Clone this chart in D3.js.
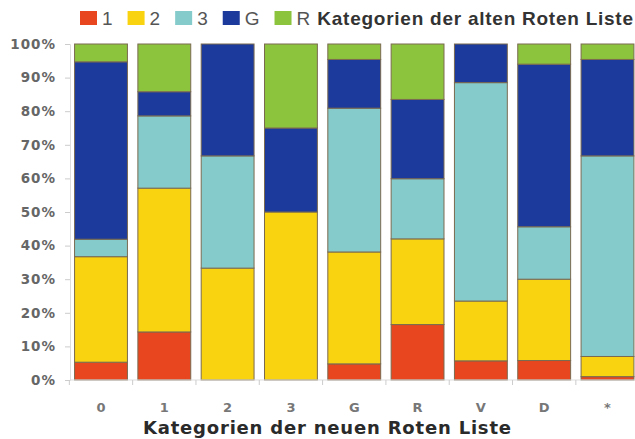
<!DOCTYPE html>
<html>
<head>
<meta charset="utf-8">
<script src="https://cdn.jsdelivr.net/npm/d3@7"></script>
<style>
  body { margin: 0; background: #fff; }
  svg { font-family: "Liberation Sans", Arial, sans-serif; }
</style>
</head>
<body>
<svg id="svg"></svg>
<script>
//data

let categories = ["0", "1", "2", "3", "G", "R", "V", "D", "*"];
let oldCats = ["1", "2", "3", "G", "R"];
let s1 = [5.3, 14.3, 0, 0, 4.8, 16.5, 5.7, 5.8, 1.0];
let s2 = [31.4, 42.8, 33.3, 50, 33.3, 25.5, 17.8, 24.2, 6.0];
let s3 = [5.2, 21.5, 33.4, 0, 42.8, 17.9, 65.0, 15.6, 59.7];
let sG = [52.8, 7.2, 33.3, 25, 14.5, 23.6, 11.5, 48.4, 28.7];
let sR = [5.3, 14.2, 0, 25, 4.6, 16.5, 0, 6.0, 4.6];
let yTicks = [0, 10, 20, 30, 40, 50, 60, 70, 80, 90, 100];
let colors = ["#e8461e", "#f9d30f", "#86cbcb", "#1b3a9b", "#8cc43e"];
let legendTitle = "Kategorien der alten Roten Liste";
let xTitle = "Kategorien der neuen Roten Liste";

//variables

let svg = d3.select("#svg");
let width = 635;
let height = 439;

let xScale;
let yScale;

let makeBackground = () => {
  svg.attr("width", width);
  svg.attr("height", height);
}

let scaleFunction = () => {
  xScale = d3.scaleBand()
    .domain(categories)
    .range([69.5, 639])
    .paddingInner(0.165)
    .paddingOuter(0.08);

  yScale = d3.scaleLinear()
    .domain([0, 100])
    .range([380, 44]);
}

let makeAxes = () => {
  let yAxis = d3.axisLeft(yScale)
    .tickValues(yTicks)
    .tickFormat((d) => d + "%")
    .tickSize(5)
    .tickPadding(9);

  let gy = svg.append("g")
    .attr("transform", "translate(70, 0)")
    .call(yAxis);
  gy.select(".domain").attr("stroke", "#ddd");
  gy.selectAll(".tick line").attr("stroke", "#ccc");
  gy.selectAll("text")
    .attr("fill", "#666")
    .attr("font-family", "DejaVu Sans")
    .attr("font-size", 13.5)
    .attr("font-weight", "bold")
    .attr("letter-spacing", 1);

  // x axis: line with ticks between the bars
  let gx = svg.append("g");
  gx.append("line")
    .attr("x1", 70).attr("x2", width)
    .attr("y1", yScale(0)).attr("y2", yScale(0))
    .attr("stroke", "#ddd");
  gx.selectAll(".sep")
    .data(categories)
    .enter()
    .append("line")
    .attr("x1", (d) => xScale(d) - xScale.step() * xScale.paddingInner() / 2)
    .attr("x2", (d) => xScale(d) - xScale.step() * xScale.paddingInner() / 2)
    .attr("y1", yScale(0))
    .attr("y2", yScale(0) + 5)
    .attr("stroke", "#ccc");
  gx.selectAll(".lab")
    .data(categories)
    .enter()
    .append("text")
    .attr("x", (d) => xScale(d) + xScale.bandwidth() / 2)
    .attr("y", 412)
    .attr("text-anchor", "middle")
    .attr("fill", "#777")
    .attr("font-family", "DejaVu Sans")
    .attr("font-size", 13)
    .attr("font-weight", "bold")
    .text((d) => d);

  svg.append("text")
    .attr("x", 327)
    .attr("y", 434)
    .attr("text-anchor", "middle")
    .attr("fill", "#2a2a2a")
    .attr("font-family", "DejaVu Sans")
    .attr("font-size", 18)
    .attr("font-weight", "bold")
    .attr("textLength", 368)
    .attr("lengthAdjust", "spacing")
    .text(xTitle);
}

let makeGraph = () => {
  let rows = categories.map((c, i) => ({
    cat: c, "1": s1[i], "2": s2[i], "3": s3[i], "G": sG[i], "R": sR[i]
  }));
  let stacked = d3.stack().keys(oldCats)(rows);

  svg.append("g")
    .selectAll("g")
    .data(stacked)
    .enter()
    .append("g")
    .attr("fill", (d, i) => colors[i])
    .selectAll("rect")
    .data((d) => d.filter((p) => p[1] - p[0] > 0))
    .enter()
    .append("rect")
    .attr("x", (d) => xScale(d.data.cat))
    .attr("width", xScale.bandwidth())
    .attr("y", (d) => yScale(d[1]))
    .attr("height", (d) => yScale(d[0]) - yScale(d[1]))
    .attr("stroke", "#7a6a50")
    .attr("stroke-width", 1);
}

let makeLegend = () => {
  let lg = svg.append("g").attr("transform", "translate(80, 0)");
  let x = 0;
  oldCats.forEach((c, i) => {
    lg.append("rect")
      .attr("x", x).attr("y", 11)
      .attr("width", 17).attr("height", 14)
      .attr("fill", colors[i]);
    let t = lg.append("text")
      .attr("x", x + 22).attr("y", 25)
      .attr("font-size", 19)
      .attr("fill", "#555")
      .text(c);
    x += 22 + t.node().getComputedTextLength() + 15;
  });
  lg.append("text")
    .attr("x", x - 8).attr("y", 25)
    .attr("font-size", 19)
    .attr("font-weight", "bold")
    .attr("fill", "#333")
    .attr("textLength", 633 - 80 - (x - 8))
    .attr("lengthAdjust", "spacing")
    .text(legendTitle);
}

makeBackground();
scaleFunction();
makeGraph();
makeAxes();
makeLegend();
</script>
</body>
</html>
